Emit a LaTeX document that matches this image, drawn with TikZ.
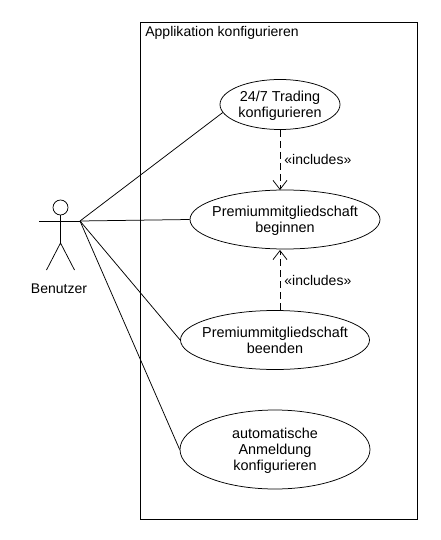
\documentclass[tikz,border=0pt]{standalone}
\usepackage{fontspec}
\setmainfont{Liberation Sans}
\usetikzlibrary{arrows.meta,shapes,positioning}

\tikzset{
  usecase/.style={draw, ellipse, inner xsep=-14pt, inner ysep=0pt, text depth=0pt, align=center, font=\fontsize{14.4}{16}\selectfont},
  plain/.style={inner sep=0pt, font=\fontsize{14}{16}\selectfont},
  includes/.style={dashed, dash pattern=on 7pt off 4pt, -{Straight Barb[length=9pt,width=14pt]}}
}

\begin{document}
\begin{tikzpicture}[x=1pt, y=-1pt, line width=0.75pt]
    \useasboundingbox (0,0) rectangle (440,540);

    \node[draw, minimum width=277pt, minimum height=497pt, inner sep=0pt] (system) at (278.5,270.5) {};
    \node[plain, anchor=west] (systemname) at (145,33) {Applikation konfigurieren};

    % actor
    \node[draw, circle, minimum size=15pt, inner sep=0pt] (head) at (60.5,207.5) {};
    \coordinate (hip) at (60.5,243);
    \coordinate (armleft) at (39,221);
    \coordinate (armright) at (80,221);
    \coordinate (footleft) at (46.5,270);
    \coordinate (footright) at (74.5,270);
    \node[plain] (actorname) at (59,288.5) {Benutzer};
    \draw (head) -- (hip);
    \draw (armleft) -- (armright);
    \draw (footleft) -- (hip) -- (footright);

    \node[usecase, minimum width=120pt, minimum height=50pt] (trading) at (280,104.5) {24/7 Trading\\konfigurieren};
    \node[usecase, minimum width=190pt, minimum height=59pt] (beginnen) at (285,219.5) {Premiummitgliedschaft\\beginnen};
    \node[usecase, minimum width=189pt, minimum height=59pt] (beenden) at (275,340) {Premiummitgliedschaft\\beenden};
    \node[usecase, minimum width=190pt, minimum height=79pt] (anmeldung) at (275,449.5) {automatische\\Anmeldung\\konfigurieren};

    \draw (armright) -- (trading.188);
    \draw (armright) -- (beginnen.west);
    \draw (armright) -- (beenden.west);
    \draw (armright) -- (anmeldung.west);

    \coordinate (arrowtop) at (280,190);
    \coordinate (arrowbottom) at (280,250);
    \coordinate (startbottom) at (280,310);
    \draw[includes] (trading.south) -- node[plain, right=4pt] (inctop) {«includes»} (arrowtop);
    \draw[includes] (startbottom) -- node[plain, right=4pt] (incbottom) {«includes»} (arrowbottom);
\end{tikzpicture}
\end{document}
